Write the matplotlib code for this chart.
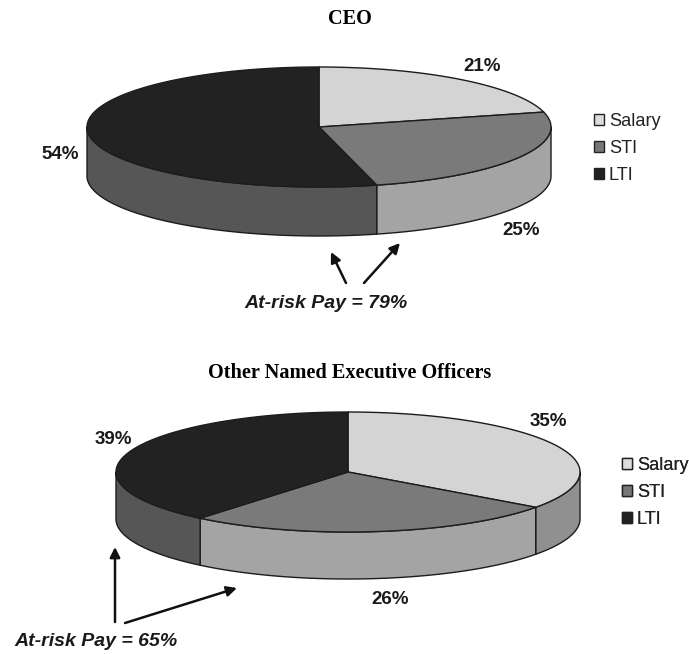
import numpy as np
import matplotlib
matplotlib.use("Agg")
from matplotlib import pyplot as plt
from matplotlib.patches import Polygon, Patch

categories = ['Salary', 'STI', 'LTI']
ceo_values = [21, 25, 54]
neo_values = [35, 26, 39]
ceo_at_risk = 79
neo_at_risk = 65

top_colors = ['#d4d4d4', '#7a7a7a', '#222222']
side_colors = ['#909090', '#a4a4a4', '#565656']
legend_colors = ['#dddddd', '#777777', '#222222']
INK = '#1c1c1c'


def ellipse_pts(cx, cy, rx, ry, a0, a1, n=200):
    # angles in degrees, clockwise from 12 o'clock
    t = np.radians(np.linspace(a0, a1, n))
    return np.column_stack([cx + rx * np.sin(t), cy - ry * np.cos(t)])


def pie3d(ax, values, cx, cy, rx, ry, depth):
    edges = np.cumsum([0] + values) * 3.6
    # side walls, only the front half of the disc shows
    for i in range(3):
        a0 = max(edges[i], 90)
        a1 = min(edges[i + 1], 270)
        if a1 <= a0:
            continue
        upper = ellipse_pts(cx, cy, rx, ry, a0, a1)
        lower = upper[::-1] + [0, depth]
        ax.add_patch(Polygon(np.vstack([upper, lower]), closed=True, fc=side_colors[i],
                             ec=INK, lw=1.0, joinstyle='round'))
    # top face
    for i in range(3):
        arc = ellipse_pts(cx, cy, rx, ry, edges[i], edges[i + 1])
        ax.add_patch(Polygon(np.vstack([[cx, cy], arc]), closed=True, fc=top_colors[i],
                             ec=INK, lw=1.0, joinstyle='round'))


def arrow(ax, start, end):
    ax.annotate('', xy=end, xytext=start,
                arrowprops=dict(arrowstyle='-|>,head_width=0.3,head_length=0.6', color='#111111',
                                lw=1.8, shrinkA=0, shrinkB=0))


def legend(ax, x, y):
    handles = [Patch(fc=c, ec='#222222', lw=1.0) for c in legend_colors]
    leg = ax.legend(handles, categories, loc='upper left', bbox_to_anchor=(x, y),
                    bbox_transform=ax.transData, frameon=False, fontsize=13.1,
                    handlelength=0.54, handleheight=0.54, handletextpad=0.28,
                    labelspacing=0.55, borderpad=0, borderaxespad=0, labelcolor='#222222')
    ax.add_artist(leg)


plt.rcParams['font.family'] = ['Liberation Sans', 'DejaVu Sans']

fig = plt.figure(figsize=(6.89, 6.54), dpi=100)
ax = fig.add_axes([0, 0, 1, 1])
ax.set_xlim(0, 689)
ax.set_ylim(654, 0)
ax.axis('off')

label_kw = dict(ha='center', va='center', fontsize=13.5, color='#1a1a1a', fontweight='bold')
title_kw = dict(ha='center', va='center', fontsize=14.6, fontweight='bold', color='black',
                family='Liberation Serif')
note_kw = dict(ha='center', va='center', fontsize=14, fontweight='bold', style='italic',
               color='#1a1a1a')

# CEO
ax.text(349.5, 18.5, 'CEO', **title_kw)
pie3d(ax, ceo_values, 319, 127, 232, 60, 49)
ax.text(482, 66.5, f'{ceo_values[0]}%', **label_kw)
ax.text(521, 230.5, f'{ceo_values[1]}%', **label_kw)
ax.text(60, 154.5, f'{ceo_values[2]}%', **label_kw)
arrow(ax, (346, 283), (331, 252))
arrow(ax, (364, 283), (400, 243))
ax.text(326, 304, f'At-risk Pay = {ceo_at_risk}%', **note_kw)
legend(ax, 594, 113)

# other NEOs
ax.text(349.5, 373.5, 'Other Named Executive Officers', **title_kw)
pie3d(ax, neo_values, 348, 472, 232, 60, 47)
ax.text(548, 421, f'{neo_values[0]}%', **label_kw)
ax.text(390, 600, f'{neo_values[1]}%', **label_kw)
ax.text(113, 439, f'{neo_values[2]}%', **label_kw)
arrow(ax, (115, 622), (115, 547))
arrow(ax, (125, 623), (237, 588))
ax.text(96, 642, f'At-risk Pay = {neo_at_risk}%', **note_kw)
legend(ax, 622, 457)

fig.savefig('out.png', dpi=100)
